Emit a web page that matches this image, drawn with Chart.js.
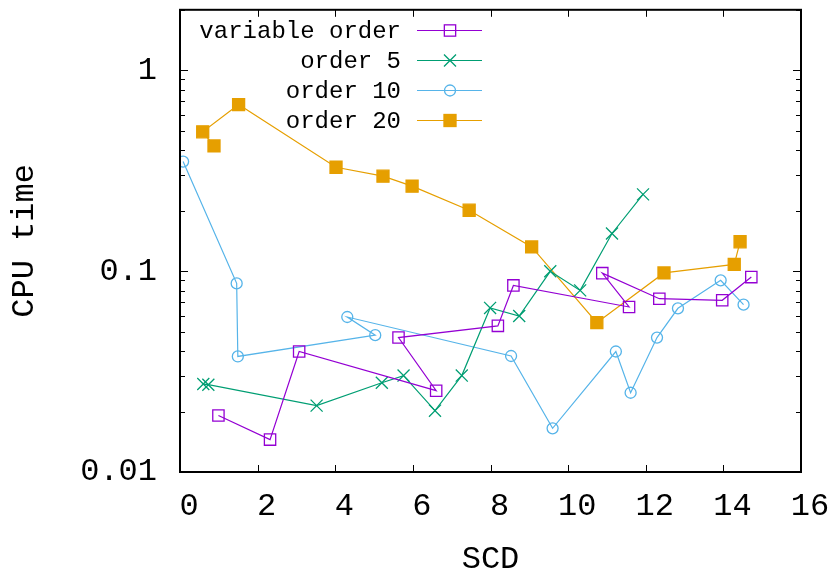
<!DOCTYPE html>
<html>
<head>
<meta charset="utf-8">
<script src="https://cdn.jsdelivr.net/npm/chart.js"></script>
<style>
html,body{margin:0;padding:0;background:#fff;}
#wrap{width:833px;height:575px;position:relative;}
</style>
</head>
<body>
<div id="wrap"><canvas id="c" width="833" height="575"></canvas></div>
<script>
// ---- data ----
const seriesNames = ["variable order", "order 5", "order 10", "order 20"];

const varOrderX = [0.99, 2.32, 3.07, 6.60, 5.63, 8.19, 8.59, 11.57, 10.88, 12.35, 13.97, 14.72];
const varOrderY = [0.0191, 0.0145, 0.0398, 0.0254, 0.0467, 0.0534, 0.0849, 0.0663, 0.0977, 0.0729, 0.0716, 0.0934];

const order5X = [0.60, 0.73, 3.52, 5.20, 5.76, 6.57, 7.26, 7.99, 8.74, 9.54, 10.31, 11.13, 11.93];
const order5Y = [0.0274, 0.0272, 0.0214, 0.0278, 0.0302, 0.0202, 0.0302, 0.0656, 0.0598, 0.0998, 0.0802, 0.154, 0.241];

const order10X = [0.08, 1.46, 1.49, 5.03, 4.31, 8.53, 9.60, 11.23, 11.61, 12.29, 12.83, 13.93, 14.52];
const order10Y = [0.351, 0.0869, 0.0376, 0.048, 0.0591, 0.0378, 0.0165, 0.0398, 0.0248, 0.0467, 0.0653, 0.090, 0.0681];

const order20X = [0.876, 0.585, 1.51, 4.02, 5.23, 5.98, 7.45, 9.06, 10.74, 12.47, 14.28, 14.43];
const order20Y = [0.42, 0.494, 0.675, 0.329, 0.297, 0.265, 0.201, 0.132, 0.0554, 0.098, 0.108, 0.140];

const xTickValues = [0, 2, 4, 6, 8, 10, 12, 14, 16];
const yTickValues = [0.01, 0.1, 1];
const xTitle = "SCD";
const yTitle = "CPU time";

// ---- styling ----
const FONT = "'Liberation Mono', 'DejaVu Sans Mono', monospace";
const colors = ["#9400d3", "#009e73", "#56b4e9", "#e69f00"];
const styles = ["rect", "crossRot", "circle", "rect"];
const radii = [8, 8.5, 5.5, 8.5];
const fills = ["rgba(0,0,0,0)", "rgba(0,0,0,0)", "rgba(0,0,0,0)", "#e69f00"];

function zip(xs, ys){ return xs.map((x,i)=>({x:x, y:ys[i]})); }
const allData = [zip(varOrderX,varOrderY), zip(order5X,order5Y), zip(order10X,order10Y), zip(order20X,order20Y)];

const datasets = allData.map((d,i)=>({
  label: seriesNames[i],
  data: d,
  showLine: true,
  borderColor: colors[i],
  backgroundColor: colors[i],
  borderWidth: 1.2,
  pointStyle: styles[i],
  pointRadius: radii[i],
  pointHoverRadius: radii[i],
  pointBorderWidth: 1.3,
  pointBorderColor: colors[i],
  pointBackgroundColor: fills[i],
  tension: 0
}));

function drawMarker(ctx, style, x, y, r, color, fill){
  ctx.save();
  ctx.strokeStyle = color; ctx.lineWidth = 1.3;
  if (style === 'rect'){
    const s = r/Math.SQRT2;
    if (fill !== 'rgba(0,0,0,0)'){ ctx.fillStyle = fill; ctx.fillRect(x-s,y-s,2*s,2*s); }
    ctx.strokeRect(x-s,y-s,2*s,2*s);
  } else if (style === 'crossRot'){
    const s = r*Math.SQRT1_2;
    ctx.beginPath(); ctx.moveTo(x-s,y-s); ctx.lineTo(x+s,y+s); ctx.moveTo(x-s,y+s); ctx.lineTo(x+s,y-s); ctx.stroke();
  } else if (style === 'circle'){
    ctx.beginPath(); ctx.arc(x,y,r,0,Math.PI*2); ctx.stroke();
  }
  ctx.restore();
}

const framePlugin = {
  id: 'frame',
  afterDraw(chart){
    const ctx = chart.ctx, a = chart.chartArea;
    const xs = chart.scales.x, ys = chart.scales.y;
    ctx.save();
    ctx.strokeStyle = '#000';
    ctx.lineWidth = 1;
    ctx.beginPath();
    xTickValues.forEach(v=>{
      const px = Math.round(xs.getPixelForValue(v)) + 0.5;
      ctx.moveTo(px, a.bottom); ctx.lineTo(px, a.bottom-7);
      ctx.moveTo(px, a.top); ctx.lineTo(px, a.top+7);
    });
    yTickValues.forEach(v=>{
      const py = Math.round(ys.getPixelForValue(v)) + 0.5;
      ctx.moveTo(a.left, py); ctx.lineTo(a.left+8, py);
      ctx.moveTo(a.right, py); ctx.lineTo(a.right-8, py);
    });
    yTickValues.forEach(d=>{
      for (let m=2;m<=9;m++){
        const v = m*d;
        if (v > ys.max) break;
        const py = Math.round(ys.getPixelForValue(v)) + 0.5;
        ctx.moveTo(a.left, py); ctx.lineTo(a.left+5, py);
        ctx.moveTo(a.right, py); ctx.lineTo(a.right-5, py);
      }
    });
    ctx.stroke();
    ctx.lineWidth = 2;
    ctx.strokeRect(a.left, a.top, a.right-a.left, a.bottom-a.top);

    ctx.fillStyle = '#000';
    ctx.font = "32px " + FONT;
    ctx.textAlign = 'center';
    ctx.textBaseline = 'alphabetic';
    ctx.fillText(xTitle, (a.left+a.right)/2, 568);
    ctx.save();
    ctx.translate(33, (a.top+a.bottom)/2);
    ctx.rotate(-Math.PI/2);
    ctx.fillText(yTitle, 0, 0);
    ctx.restore();

    ctx.font = "24px " + FONT;
    ctx.textAlign = 'right';
    const rows = [30, 60, 90, 120];
    chart.data.datasets.forEach((ds,i)=>{
      const y = rows[i];
      ctx.fillStyle = '#000';
      ctx.fillText(ds.label, 401, y+8);
      ctx.strokeStyle = ds.borderColor; ctx.lineWidth = 1.2;
      ctx.beginPath(); ctx.moveTo(417, y+0.5); ctx.lineTo(482, y+0.5); ctx.stroke();
      drawMarker(ctx, styles[i], 450, y+0.5, radii[i], colors[i], fills[i]);
    });
    ctx.restore();
  }
};

new Chart(document.getElementById('c'), {
  type: 'scatter',
  data: { datasets: datasets },
  plugins: [framePlugin],
  options: {
    responsive: false,
    animation: false,
    layout: { padding: { top: 7, right: 32, left: 0, bottom: 0 } },
    plugins: { legend: { display: false }, tooltip: { enabled: false } },
    scales: {
      x: {
        type: 'linear', min: 0, max: 16,
        afterFit: s => { s.height = 103; s.paddingLeft = 0; s.paddingRight = 0; },
        afterBuildTicks: s => { s.ticks = xTickValues.map(v=>({value:v})); },
        grid: { display: false, drawTicks: false },
        border: { display: false },
        ticks: { color: '#000', font: { family: FONT, size: 32 }, padding: 15, labelOffset: 9, maxRotation: 0,
                 callback: v => String(v) }
      },
      y: {
        type: 'logarithmic', min: 0.01, max: 2,
        afterFit: s => { s.width = 180; s.paddingTop = 0; s.paddingBottom = 0; },
        afterBuildTicks: s => { s.ticks = yTickValues.map(v=>({value:v})); },
        grid: { display: false, drawTicks: false },
        border: { display: false },
        ticks: { color: '#000', font: { family: FONT, size: 32 }, padding: 23,
                 callback: v => String(v) }
      }
    }
  }
});
</script>
</body>
</html>
